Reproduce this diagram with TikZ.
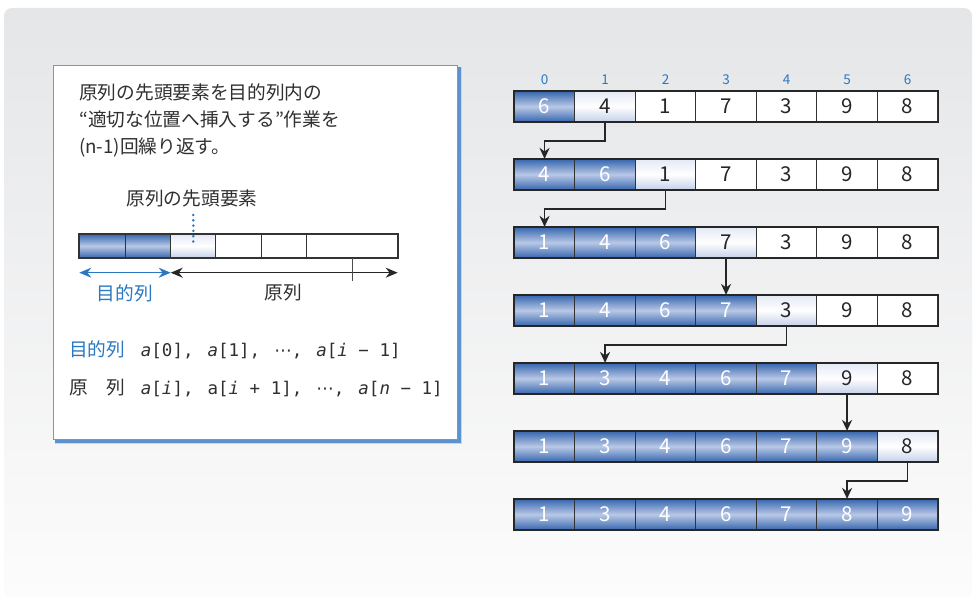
\documentclass[tikz,border=0pt]{standalone}
\usepackage{fontspec}
\setmainfont{Noto Sans CJK JP}
\newfontfamily\monof{DejaVu Sans Mono}
\newfontfamily\dvs{DejaVu Sans}
\usetikzlibrary{arrows.meta,calc}
\definecolor{bgtop}{HTML}{E5E6E8}
\definecolor{bgbot}{HTML}{FCFCFC}
\definecolor{dkblue}{HTML}{3A69B0}
\definecolor{ltblue}{HTML}{B9C8E6}
\definecolor{idxblue}{HTML}{2A78C2}
\definecolor{txt}{HTML}{303030}
\definecolor{curtop}{HTML}{E4E9F5}
\definecolor{curbot}{HTML}{C6D1EA}
\definecolor{shblue}{HTML}{3F7FC6}
\definecolor{bdblue}{HTML}{6C9BD2}
\tikzset{
  cell/.style={draw=black!80, line width=1.2pt, minimum width=60.5pt, minimum height=30pt,
    inner sep=0pt, font=\fontsize{20.5}{21}\selectfont},
  scell/.style={draw=black!80, line width=1pt, minimum height=23.4pt, inner sep=0pt},
  srt/.style={top color=dkblue, bottom color=dkblue, middle color=ltblue, text=white},
  cur/.style={top color=curtop, bottom color=curbot, middle color=white, text=black!85},
  uns/.style={fill=white, text=black!85},
  arr/.style={line width=1.8pt, draw=black!85, -{Stealth[length=11pt,width=10pt]}},
  idx/.style={text=idxblue, font=\fontsize{13.5}{13.5}\selectfont, inner sep=0pt},
  jp/.style={text=txt, font=\fontsize{18.7}{18.7}\selectfont, inner sep=0pt},
  mono/.style={text=txt, font=\monof\fontsize{17.5}{17.5}\selectfont, inner sep=0pt},
  dbl/.style={line width=1.5pt, {Stealth[length=12pt,width=10pt]}-{Stealth[length=12pt,width=10pt]}},
}
\begin{document}
\begin{tikzpicture}[x=1pt,y=-1pt]
\useasboundingbox (0,0) rectangle (975,604);
% background panel
\shade[top color=bgtop, bottom color=bgbot, rounded corners=8pt] (4,8) rectangle (972,598);

% ---------- left box ----------
\fill[shblue!30] (55,67) rectangle (462,444);
\fill[shblue!85] (55,67) rectangle (460.5,442.5);
\draw[bdblue, line width=0.8pt, fill=white] (53.3,65) rectangle (457.3,439);

\node[jp, anchor=base west] (t1) at (79,100) {原列の先頭要素を目的列内の};
\node[jp, anchor=base west] (t2) at (79,127) {“適切な位置へ挿入する”作業を};
\node[jp, anchor=base west] (t3) at (79,154) {(n-1)回繰り返す。};

\node[jp] (head) at (192,198) {原列の先頭要素};

% small array
\node[scell, srt, minimum width=46pt] (s0) at (102.3,246) {};
\node[scell, srt, minimum width=45.4pt] (s1) at (148,246) {};
\node[scell, cur, minimum width=45.4pt] (s2) at (193.35,246) {};
\node[scell, uns, minimum width=45.4pt] (s3) at (238.65,246) {};
\node[scell, uns, minimum width=45.4pt] (s4) at (284,246) {};
\node[scell, uns, minimum width=91pt] (s5) at (352.2,246) {};
\draw[black!80, line width=1.5pt] (s0.north west) rectangle (s5.south east);

\coordinate (dtop) at (193.3,215);
\draw[idxblue, line width=2.8pt, dash pattern=on 0pt off 5.3pt, line cap=round] (dtop) -- (s2.center);

\coordinate (aL) at (79.3,272.7);
\coordinate (aM) at (170.7,272.7);
\coordinate (aR) at (397.7,272.7);
\draw[dbl, idxblue] (aL) -- (aM);
\draw[dbl, black!85] (aM) -- (aR);
\draw[black!70, line width=1pt] (s5.south) -- ++(0,23);

\node[jp, text=idxblue] (lt) at (125,293) {目的列};
\node[jp] (lo) at (283,293) {原列};

% bottom lines
\node[jp, text=idxblue, anchor=base west] (b1) at (69,356.5) {目的列};
\node[mono, anchor=base west] (m1) at (140.7,356.5)
  {{\itshape a}[0],\hspace{14pt}{\itshape a}[1],\hspace{14pt}{\dvs ⋯},\hspace{14pt}{\itshape a}[{\itshape i} − 1]};
\node[jp, anchor=base west] (b2) at (69,394.5) {原　列};
\node[mono, anchor=base west] (m2) at (140.7,394.5)
  {{\itshape a}[{\itshape i}],\hspace{14pt}a[{\itshape i} + 1],\hspace{14pt}{\dvs ⋯},\hspace{14pt}{\itshape a}[{\itshape n} − 1]};

% ---------- right arrays ----------
\foreach \r/\k/\vals in {0/1/{6,4,1,7,3,9,8}, 1/2/{4,6,1,7,3,9,8}, 2/3/{1,4,6,7,3,9,8},
    3/4/{1,4,6,7,3,9,8}, 4/5/{1,3,4,6,7,9,8}, 5/6/{1,3,4,6,7,9,8}, 6/7/{1,3,4,6,7,8,9}} {
  \foreach \v [count=\c from 0] in \vals {
    \ifnum\c<\k \def\st{srt}\else\ifnum\c=\k \def\st{cur}\else\def\st{uns}\fi\fi
    \node[cell,\st] (r\r-\c) at ({514.3+60.5*(\c+0.5)},{106.5+68*\r}) {\v};
  }
  \draw[black!85, line width=1.8pt] (r\r-0.north west) rectangle (r\r-6.south east);
}
\foreach \c in {0,...,6} \node[idx] (i\c) at ($(r0-\c.north)+(0,-11.5)$) {\c};

\draw[arr] (r0-1.south) -- ++(0,19) -| (r1-0.north);
\draw[arr] (r1-2.south) -- ++(0,19) -| (r2-0.north);
\draw[arr] (r2-3.south) -- (r3-3.north);
\draw[arr] (r3-4.south) -- ++(0,19) -| (r4-1.north);
\draw[arr] (r4-5.south) -- (r5-5.north);
\draw[arr] (r5-6.south) -- ++(0,19) -| (r6-5.north);
\end{tikzpicture}
\end{document}
